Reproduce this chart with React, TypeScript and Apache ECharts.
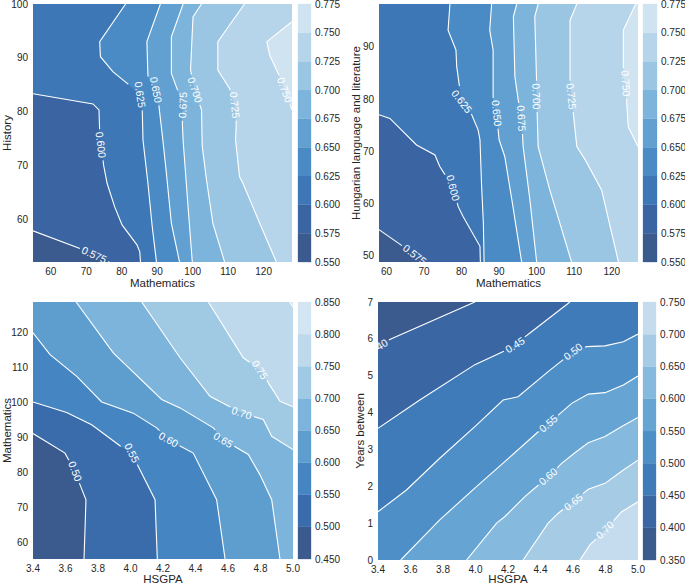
import React, { useEffect, useRef } from "react";
import * as echarts from "echarts";

type Pt = [number, number];

const FONT = "'Liberation Sans', Arial, Helvetica, sans-serif";
const INK = "#262626";

// ---------------- Panel 1: History vs Mathematics ----------------
const P1_X_NAME = "Mathematics";
const P1_Y_NAME = "History";
const P1_X_RANGE: Pt = [55, 128];
const P1_Y_RANGE: Pt = [52, 100];
const P1_X_TICKS = [60, 70, 80, 90, 100, 110, 120];
const P1_Y_TICKS = [60, 70, 80, 90, 100];
const P1_BAR_TICKS = [0.55, 0.575, 0.6, 0.625, 0.65, 0.675, 0.7, 0.725, 0.75, 0.775];
const P1_LEVELS = [0.575, 0.6, 0.625, 0.65, 0.675, 0.7, 0.725, 0.75];
const P1_LINES: Pt[][] = [
  [[76.5, 52], [68.6, 54.4], [55, 57.8]],
  [[85.3, 52], [85.1, 53.9], [84.3, 55.2], [80.1, 58.9], [78.0, 62.3], [75.9, 66.6], [74.9, 70], [73.8, 76], [73.6, 80.3], [71.9, 81.4], [55, 83.3]],
  [[89.8, 52], [88.6, 58.6], [87.4, 66.6], [86.0, 74.7], [85.8, 80], [85.1, 83.1], [81.8, 85.1], [77.5, 87.4], [74.0, 90.2], [73.8, 93], [81.1, 100]],
  [[96.3, 52], [94.0, 59.2], [92.6, 68.5], [91.6, 74.7], [90.5, 81], [89.6, 84], [87.4, 86.5], [87.1, 93], [90.9, 100]],
  [[99.9, 52], [98.7, 62.3], [97.3, 74.7], [97.1, 77.8], [97.3, 81.2], [94.0, 87.1], [94.0, 93.9], [97.3, 100]],
  [[109.0, 52], [105.7, 59.2], [103.9, 67.3], [102.7, 73.5], [102.5, 80.3], [100.6, 84], [99.4, 87.7], [100.1, 97.6], [102.5, 100]],
  [[123.6, 52], [118.9, 59.2], [114.2, 66.6], [113.2, 67.9], [112.1, 74.7], [112.3, 77.8], [111.8, 81.2], [110.4, 84.3], [107.1, 87.7], [107.1, 93], [114.6, 100]],
  [[128, 80.3], [125.9, 84], [124.5, 86.5], [121.7, 90.5], [120.9, 93], [128, 96.7]],
];
const P1_LABELS: Pt[] = [[72.1, 53.1], [74.2, 73.8], [85.1, 83.1], [89.6, 84], [97.3, 81.2], [100.6, 84], [111.8, 81.2], [125.9, 84]];

// ---------------- Panel 2: Hungarian vs Mathematics ----------------
const P2_X_NAME = "Mathematics";
const P2_Y_NAME = "Hungarian language and literature";
const P2_X_RANGE: Pt = [58, 127];
const P2_Y_RANGE: Pt = [48.8, 98.2];
const P2_X_TICKS = [60, 70, 80, 90, 100, 110, 120];
const P2_Y_TICKS = [50, 60, 70, 80, 90];
const P2_BAR_TICKS = [0.55, 0.575, 0.6, 0.625, 0.65, 0.675, 0.7, 0.725, 0.75, 0.775];
const P2_LEVELS = [0.575, 0.6, 0.625, 0.65, 0.675, 0.7, 0.725, 0.75];
const P2_LINES: Pt[][] = [
  [[70, 48.8], [65.8, 51.1], [58, 55.0]],
  [[85, 48.8], [84.9, 51.8], [80.4, 57.5], [79.1, 59.4], [77.8, 63], [74.2, 67.1], [72.9, 69.3], [68, 71.2], [60.9, 76.3], [58, 77]],
  [[86, 48.8], [85.8, 56.3], [85.3, 63.9], [84.9, 72.2], [84.4, 74.1], [82.7, 77], [80, 79.5], [78.7, 86.2], [78.5, 89.4], [76.4, 93.2], [76.9, 98.2]],
  [[96, 48.8], [93.4, 60.7], [91.5, 69], [90, 72.2], [89.3, 77.3], [88.4, 79.8], [88.4, 89.4], [87.5, 93.2], [88, 98.2]],
  [[100, 48.8], [98.2, 60.7], [96.4, 70.9], [96, 76.3], [95.1, 79.8], [94.2, 84.3], [93.8, 95.8], [94.7, 98.2]],
  [[109.3, 48.8], [103.5, 62.6], [100.4, 70.9], [100, 80.5], [100, 83], [99.5, 95.8], [100.4, 98.2]],
  [[121.8, 48.8], [117.3, 62.6], [112.9, 68.4], [110.7, 70.9], [109.3, 80.5], [108.9, 83.7], [108.9, 95.1], [110.7, 98.2]],
  [[127, 70.9], [124.4, 74.7], [123.7, 83], [123.1, 84.3], [123.1, 93.2], [126.4, 98.2]],
];
const P2_LABELS: Pt[] = [[67.5, 50.2], [77.8, 63], [80, 79.5], [89.3, 77.3], [96, 76.3], [100, 80.5], [109.3, 80.5], [123.7, 83]];

// ---------------- Panel 3: Mathematics vs HSGPA ----------------
const P3_X_NAME = "HSGPA";
const P3_Y_NAME = "Mathematics";
const P3_X_RANGE: Pt = [3.4, 5.0];
const P3_Y_RANGE: Pt = [55.3, 128.6];
const P3_X_TICKS = [3.4, 3.6, 3.8, 4.0, 4.2, 4.4, 4.6, 4.8, 5.0];
const P3_Y_TICKS = [60, 70, 80, 90, 100, 110, 120];
const P3_BAR_TICKS = [0.45, 0.5, 0.55, 0.6, 0.65, 0.7, 0.75, 0.8, 0.85];
const P3_LEVELS = [0.5, 0.55, 0.6, 0.65, 0.7, 0.75, 0.8];
const P3_LINES: Pt[][] = [
  [[3.714, 55.3], [3.726, 72.2], [3.689, 76.5], [3.658, 80.3], [3.597, 85.5], [3.4, 91.1]],
  [[4.165, 55.3], [4.151, 72.2], [4.048, 81.7], [4.007, 85.5], [3.935, 87.6], [3.761, 93.6], [3.607, 97.1], [3.4, 100.1]],
  [[4.582, 55.3], [4.53, 72.2], [4.386, 85.5], [4.233, 89.3], [4.161, 92.7], [4.017, 96.9], [3.823, 100.1], [3.669, 107.4], [3.505, 113.6], [3.4, 119.8]],
  [[4.92, 55.3], [4.869, 72.2], [4.797, 79.3], [4.725, 85.1], [4.571, 89.3], [4.51, 92.7], [4.305, 98.4], [4.192, 100.8], [3.894, 114.1], [3.665, 128.6]],
  [[5.0, 86.5], [4.869, 90.3], [4.817, 95.1], [4.684, 97], [4.489, 101.7], [4.305, 112.7], [4.069, 128.6]],
  [[5.0, 98.7], [4.92, 100.3], [4.797, 109.3], [4.694, 112.7], [4.479, 128.6]],
  [[5.0, 127.2], [4.98, 128.6]],
];
const P3_LABELS: (Pt | null)[] = [[3.658, 80.3], [4.007, 85.5], [4.233, 89.3], [4.571, 89.3], [4.684, 97], [4.797, 109.3], null];

// ---------------- Panel 4: Years between vs HSGPA ----------------
const P4_X_NAME = "HSGPA";
const P4_Y_NAME = "Years between";
const P4_X_RANGE: Pt = [3.4, 5.0];
const P4_Y_RANGE: Pt = [0, 7];
const P4_X_TICKS = [3.4, 3.6, 3.8, 4.0, 4.2, 4.4, 4.6, 4.8, 5.0];
const P4_Y_TICKS = [0, 1, 2, 3, 4, 5, 6, 7];
const P4_BAR_TICKS = [0.35, 0.4, 0.45, 0.5, 0.55, 0.6, 0.65, 0.7, 0.75];
const P4_LEVELS = [0.4, 0.45, 0.5, 0.55, 0.6, 0.65, 0.7];
const P4_LINES: Pt[][] = [
  [[3.4, 5.79], [3.472, 5.98], [3.996, 7]],
  [[3.4, 3.57], [3.657, 4.34], [3.996, 5.3], [4.191, 5.7], [4.242, 5.84], [4.335, 6.16], [4.581, 7]],
  [[3.4, 1.31], [3.575, 1.9], [3.78, 2.76], [4.006, 3.66], [4.17, 4.34], [4.262, 4.43], [4.447, 5.11], [4.601, 5.65], [4.684, 5.79], [4.797, 5.81], [4.91, 5.92], [5.0, 6.13]],
  [[3.54, 0], [3.78, 1.09], [4.006, 1.99], [4.18, 2.67], [4.386, 3.48], [4.447, 3.71], [4.509, 3.93], [4.592, 4.25], [4.694, 4.5], [4.797, 4.54], [4.91, 4.75], [5.0, 4.99]],
  [[3.945, 0], [4.13, 1.0], [4.181, 1.18], [4.304, 1.72], [4.447, 2.26], [4.53, 2.62], [4.612, 2.91], [4.694, 3.18], [4.797, 3.35], [4.9, 3.62], [5.0, 3.87]],
  [[4.293, 0], [4.447, 1.0], [4.509, 1.27], [4.601, 1.58], [4.694, 1.92], [4.797, 2.08], [4.91, 2.44], [5.0, 2.71]],
  [[4.643, 0], [4.704, 0.41], [4.797, 0.81], [4.9, 1.31], [5.0, 1.58]],
];
const P4_LABELS: Pt[] = [[3.4, 5.79], [4.242, 5.84], [4.601, 5.65], [4.447, 3.71], [4.447, 2.26], [4.601, 1.58], [4.797, 0.81]];

// ---------------- colour palettes (styles) ----------------
const PAL_9 = ["#3b5a8e", "#3a65a2", "#3d77b6", "#4b8bc5", "#61a0d0", "#7db4db", "#9ac6e3", "#b7d5ea", "#d0e3f1"];
const PAL_8A = ["#3b5a8e", "#3a6cab", "#4585c2", "#5e9ecf", "#7db4db", "#a0c9e4", "#bfd9ec", "#d3e5f2"];
const PAL_8B = ["#3b5a8e", "#3a67a4", "#3f7bb9", "#4f8fc7", "#66a5d3", "#85b9dd", "#a6cbe5", "#c4dcee"];

interface Panel {
  xName: string; yName: string;
  xRange: Pt; yRange: Pt;
  xTicks: number[]; yTicks: number[];
  xDec: number; yDec: number;
  barTicks: number[]; barDec: number;
  levels: number[]; lines: Pt[][]; labels: (Pt | null)[];
  labelDec: number; colors: string[];
  grid: { left: number; top: number; width: number; height: number };
  bar: { left: number; top: number; width: number; height: number };
  yNameGap: number; xNameGap: number;
}

const PANELS: Panel[] = [
  {
    xName: P1_X_NAME, yName: P1_Y_NAME, xRange: P1_X_RANGE, yRange: P1_Y_RANGE,
    xTicks: P1_X_TICKS, yTicks: P1_Y_TICKS, xDec: 0, yDec: 0,
    barTicks: P1_BAR_TICKS, barDec: 3, levels: P1_LEVELS, lines: P1_LINES, labels: P1_LABELS,
    labelDec: 3, colors: PAL_9,
    grid: { left: 33, top: 4, width: 259, height: 258 },
    bar: { left: 298, top: 4, width: 13, height: 258 },
    yNameGap: 20, xNameGap: 15,
  },
  {
    xName: P2_X_NAME, yName: P2_Y_NAME, xRange: P2_X_RANGE, yRange: P2_Y_RANGE,
    xTicks: P2_X_TICKS, yTicks: P2_Y_TICKS, xDec: 0, yDec: 0,
    barTicks: P2_BAR_TICKS, barDec: 3, levels: P2_LEVELS, lines: P2_LINES, labels: P2_LABELS,
    labelDec: 3, colors: PAL_9,
    grid: { left: 379, top: 4, width: 259, height: 258 },
    bar: { left: 643, top: 4, width: 14, height: 258 },
    yNameGap: 17, xNameGap: 15,
  },
  {
    xName: P3_X_NAME, yName: P3_Y_NAME, xRange: P3_X_RANGE, yRange: P3_Y_RANGE,
    xTicks: P3_X_TICKS, yTicks: P3_Y_TICKS, xDec: 1, yDec: 0,
    barTicks: P3_BAR_TICKS, barDec: 3, levels: P3_LEVELS, lines: P3_LINES, labels: P3_LABELS,
    labelDec: 2, colors: PAL_8A,
    grid: { left: 33, top: 302, width: 260, height: 257 },
    bar: { left: 298, top: 302, width: 13, height: 257 },
    yNameGap: 20, xNameGap: 14,
  },
  {
    xName: P4_X_NAME, yName: P4_Y_NAME, xRange: P4_X_RANGE, yRange: P4_Y_RANGE,
    xTicks: P4_X_TICKS, yTicks: P4_Y_TICKS, xDec: 1, yDec: 0,
    barTicks: P4_BAR_TICKS, barDec: 3, levels: P4_LEVELS, lines: P4_LINES, labels: P4_LABELS,
    labelDec: 2, colors: PAL_8B,
    grid: { left: 378, top: 302, width: 260, height: 258 },
    bar: { left: 643, top: 302, width: 13, height: 258 },
    yNameGap: 12, xNameGap: 13,
  },
];

// close a contour polyline along the plot boundary (higher values lie to the right of travel)
function closeRegion(line: Pt[], xr: Pt, yr: Pt): Pt[] {
  const [x0, x1] = xr;
  const [y0, y1] = yr;
  const tOf = (p: Pt) => {
    const dl = Math.abs(p[0] - x0) / (x1 - x0);
    const dr = Math.abs(p[0] - x1) / (x1 - x0);
    const db = Math.abs(p[1] - y0) / (y1 - y0);
    const dt = Math.abs(p[1] - y1) / (y1 - y0);
    const m = Math.min(dl, dr, db, dt);
    if (m === dl) return (p[1] - y0) / (y1 - y0);
    if (m === dt) return 1 + (p[0] - x0) / (x1 - x0);
    if (m === dr) return 2 + (y1 - p[1]) / (y1 - y0);
    return 3 + (x1 - p[0]) / (x1 - x0);
  };
  const corners: Pt[] = [[x0, y0], [x0, y1], [x1, y1], [x1, y0]];
  const tA = tOf(line[0]);
  const tB = tOf(line[line.length - 1]);
  let end = tA;
  if (end <= tB) end += 4;
  const out = line.slice();
  for (let c = Math.floor(tB) + 1; c < end; c++) out.push(corners[c % 4]);
  return out;
}

function textWidth(s: string, fs: number) {
  let w = 0;
  for (const ch of s) w += ch === "." ? 0.278 : 0.556;
  return w * fs;
}

function lineGroup(pts: number[][], labelPx: number[] | null, text: string, fs: number) {
  const n = pts.length;
  const cum: number[] = [0];
  for (let i = 1; i < n; i++) {
    cum.push(cum[i - 1] + Math.hypot(pts[i][0] - pts[i - 1][0], pts[i][1] - pts[i - 1][1]));
  }
  const total = cum[n - 1];
  const pointAt = (s: number): number[] => {
    const ss = Math.max(0, Math.min(total, s));
    let i = 1;
    while (i < n - 1 && cum[i] < ss) i++;
    const seg = cum[i] - cum[i - 1] || 1;
    const f = (ss - cum[i - 1]) / seg;
    return [pts[i - 1][0] + f * (pts[i][0] - pts[i - 1][0]), pts[i - 1][1] + f * (pts[i][1] - pts[i - 1][1])];
  };
  const sub = (a: number, b: number) => {
    const r = [pointAt(a)];
    for (let i = 0; i < n; i++) if (cum[i] > a && cum[i] < b) r.push(pts[i]);
    r.push(pointAt(b));
    return r;
  };
  const lineStyle = { stroke: "#ffffff", lineWidth: 1.1, fill: null as any };
  const children: any[] = [];
  if (!labelPx) {
    children.push({ type: "polyline", shape: { points: pts }, style: lineStyle });
    return { type: "group", children };
  }
  let best = Infinity;
  let s0 = 0;
  let segDx = 1;
  let segDy = 0;
  for (let i = 1; i < n; i++) {
    const ax = pts[i - 1][0], ay = pts[i - 1][1];
    const dx = pts[i][0] - ax, dy = pts[i][1] - ay;
    const L2 = dx * dx + dy * dy || 1;
    let f = ((labelPx[0] - ax) * dx + (labelPx[1] - ay) * dy) / L2;
    f = Math.max(0, Math.min(1, f));
    const px = ax + f * dx, py = ay + f * dy;
    const d = Math.hypot(labelPx[0] - px, labelPx[1] - py);
    if (d < best) {
      best = d;
      s0 = cum[i - 1] + f * Math.sqrt(L2);
      segDx = dx;
      segDy = dy;
    }
  }
  const w = textWidth(text, fs);
  const half = w / 2 + 2.5;
  if (s0 - half > 0) children.push({ type: "polyline", shape: { points: sub(0, s0 - half) }, style: lineStyle });
  if (s0 + half < total) children.push({ type: "polyline", shape: { points: sub(s0 + half, total) }, style: lineStyle });
  const c = pointAt(s0);
  let ux = segDx;
  let uy = segDy;
  if (ux < 0) {
    ux = -ux;
    uy = -uy;
  }
  const ang = Math.atan2(uy, ux);
  children.push({
    type: "text",
    x: c[0],
    y: c[1],
    rotation: -ang,
    originX: 0,
    originY: 0,
    style: { text, fill: "#ffffff", fontSize: fs, fontFamily: FONT, align: "center", verticalAlign: "middle" },
  });
  return { type: "group", children };
}

function buildOption() {
  const grid: any[] = [];
  const xAxis: any[] = [];
  const yAxis: any[] = [];
  const series: any[] = [];
  const labelStyle = { color: INK, fontSize: 10, fontFamily: FONT };
  const nameStyle = { color: INK, fontSize: 11.5, fontFamily: FONT };
  PANELS.forEach((p, i) => {
    const gi = 2 * i;
    const bi = 2 * i + 1;
    grid.push({ ...p.grid, show: true, backgroundColor: p.colors[0], borderWidth: 0, containLabel: false, outerBoundsMode: "none" });
    grid.push({ ...p.bar, show: false, containLabel: false, outerBoundsMode: "none" });
    xAxis.push({
      type: "value", gridIndex: gi, min: p.xRange[0], max: p.xRange[1],
      axisLine: { show: false }, axisTick: { show: false }, splitLine: { show: false },
      axisLabel: { ...labelStyle, margin: 4, customValues: p.xTicks, formatter: (v: number) => v.toFixed(p.xDec) },
      name: p.xName, nameLocation: "middle", nameGap: p.xNameGap, nameTextStyle: nameStyle,
      nameMoveOverlap: false,
    });
    yAxis.push({
      type: "value", gridIndex: gi, min: p.yRange[0], max: p.yRange[1],
      axisLine: { show: false }, axisTick: { show: false }, splitLine: { show: false },
      axisLabel: { ...labelStyle, margin: 5, customValues: p.yTicks, formatter: (v: number) => v.toFixed(p.yDec) },
      name: p.yName, nameLocation: "middle", nameGap: p.yNameGap, nameTextStyle: nameStyle,
      nameMoveOverlap: false,
    });
    xAxis.push({ type: "value", gridIndex: bi, min: 0, max: 1, show: false });
    const bMin = p.barTicks[0];
    const bMax = p.barTicks[p.barTicks.length - 1];
    yAxis.push({
      type: "value", gridIndex: bi, position: "right", min: bMin, max: bMax,
      axisLine: { show: false }, axisTick: { show: false }, splitLine: { show: false },
      axisLabel: { ...labelStyle, margin: 4, customValues: p.barTicks, formatter: (v: number) => v.toFixed(p.barDec) },
    });
    const step = p.barTicks[1] - p.barTicks[0];
    // filled bands
    series.push({
      type: "custom", xAxisIndex: gi, yAxisIndex: gi, clip: true, silent: true, z: 2,
      data: p.levels.map((v) => [p.xRange[0], p.yRange[0], v]),
      renderItem: (params: any, api: any) => {
        const k = params.dataIndex;
        const band = Math.round((p.levels[k] - bMin) / step);
        const poly = closeRegion(p.lines[k], p.xRange, p.yRange).map((q) => api.coord(q));
        return { type: "polygon", shape: { points: poly }, style: { fill: p.colors[band], stroke: p.colors[band], lineWidth: 0.3 } };
      },
    });
    // contour lines with inline labels
    series.push({
      type: "custom", xAxisIndex: gi, yAxisIndex: gi, clip: true, silent: true, z: 3,
      data: p.levels.map((v) => [p.xRange[0], p.yRange[0], v]),
      renderItem: (params: any, api: any) => {
        const k = params.dataIndex;
        const pts = p.lines[k].map((q) => api.coord(q));
        const lab = p.labels[k];
        return lineGroup(pts, lab ? api.coord(lab) : null, p.levels[k].toFixed(p.labelDec), 10.5);
      },
    });
    // colour bar
    series.push({
      type: "custom", xAxisIndex: bi, yAxisIndex: bi, silent: true, z: 2,
      data: p.barTicks.slice(0, -1).map((v, k) => [v, p.barTicks[k + 1]]),
      renderItem: (params: any, api: any) => {
        const k = params.dataIndex;
        const a = api.coord([0, p.barTicks[k]]);
        const b = api.coord([1, p.barTicks[k + 1]]);
        return {
          type: "rect",
          shape: { x: a[0], y: b[1], width: b[0] - a[0], height: a[1] - b[1] },
          style: { fill: p.colors[k], stroke: p.colors[k], lineWidth: 0.3 },
        };
      },
    });
  });
  return {
    animation: false,
    backgroundColor: "#ffffff",
    textStyle: { fontFamily: FONT },
    grid, xAxis, yAxis, series,
  };
}

export default function App() {
  const ref = useRef<HTMLDivElement>(null);
  useEffect(() => {
    if (!ref.current) return;
    const chart = echarts.init(ref.current, undefined, { renderer: "svg" });
    chart.setOption(buildOption() as any);
    return () => chart.dispose();
  }, []);
  return <div ref={ref} style={{ position: "absolute", left: 0, top: 0, width: 685, height: 586 }} />;
}
